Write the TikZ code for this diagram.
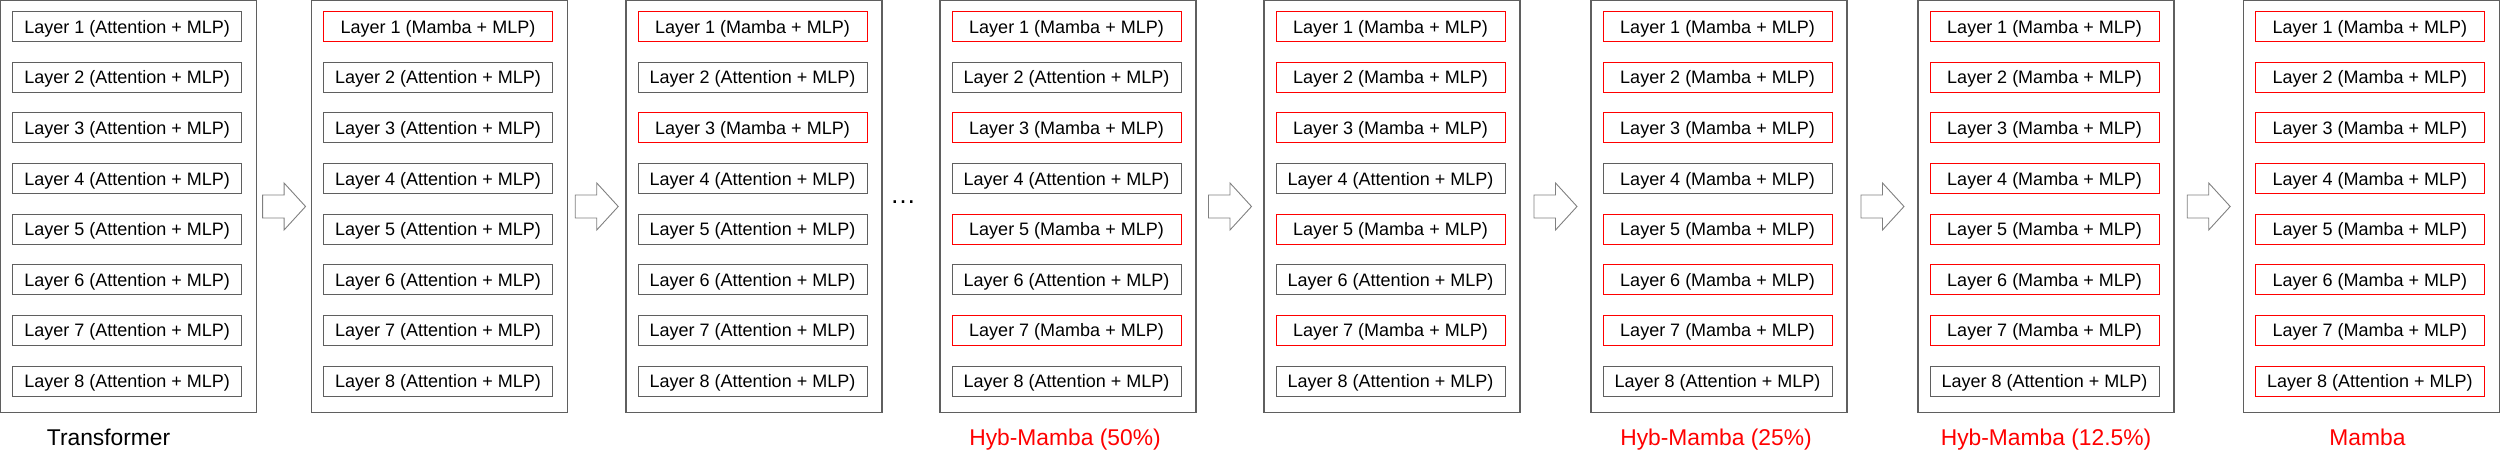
\documentclass[tikz,border=0pt]{standalone}
\usepackage{fontspec}
\setmainfont{Liberation Sans}
\usetikzlibrary{calc,positioning}
\definecolor{edgegray}{RGB}{95,95,95}
\definecolor{arrowgray}{RGB}{128,128,128}
\newcommand\tyA{Attention}
\newcommand\tyM{Mamba}
\newcommand\tyG{Mamba}
\newcommand\tyR{Attention}
\newcommand\laytext[2]{Layer #1 (\csname ty#2\endcsname{} + MLP)}
\tikzset{panel/.style={draw=edgegray, line width=0.55pt, minimum width=128pt, minimum height=206pt, inner sep=0pt},
  layer/.style={line width=0.5pt, minimum width=114.5pt, minimum height=15pt, inner sep=0pt, text height=6.45pt, text depth=0pt, font=\fontsize{9}{10}\selectfont},
  layerA/.style={layer, draw=edgegray}, layerM/.style={layer, draw=red},
  layerG/.style={layerA}, layerR/.style={layerM},
  caption/.style={anchor=base, font=\fontsize{11.4}{13}\selectfont},
  blockarrow/.style={draw=arrowgray, fill=white, line width=0.45pt, line join=miter}}

\begin{document}
\begin{tikzpicture}[x=0.5pt,y=-0.5pt]
   \useasboundingbox (0,0) rectangle (2500,454);
   % A = attention, M = mamba, G = mamba (grey box), R = attention (red box)
   \foreach \i/\cx/\codes in {1/128.6/{A,A,A,A,A,A,A,A}, 2/439.5/{M,A,A,A,A,A,A,A},
                              3/754/{M,A,M,A,A,A,A,A},   4/1068/{M,A,M,A,M,A,M,A},
                              5/1392/{M,M,M,A,M,A,M,A},  6/1719/{M,M,M,G,M,M,M,A},
                              7/2046/{M,M,M,M,M,M,M,A},  8/2371.4/{M,M,M,M,M,M,M,R}} {
    \node[panel] (s\i) at (\cx,206.5) {};
    \foreach \c [count=\j] in \codes
     \node[layer\c] (s\i l\j) at ({\cx-1.5},{26.8+50.6*(\j-1)}) {\laytext{\j}{\c}};
   }
   \foreach \a/\b in {1/2,2/3,4/5,5/6,6/7,7/8} {
    \coordinate (g\a) at ($(s\a.east)!0.5!(s\b.west)$);
    \draw[blockarrow, shift={(g\a)}] (-21.5,-11.5) -- (0,-11.5) -- (0,-23.5) -- (21.5,0) -- (0,23.5) -- (0,11.5) -- (-21.5,11.5) -- cycle;
   }
   \coordinate (g3) at ($(s3.east)!0.5!(s4.west)$);
   \node[anchor=base, inner sep=0pt, font=\fontsize{13}{15}\selectfont] (more) at ([xshift=-4pt,yshift=1.5pt]g3) {\dots};
   \node[caption] (cap1) at ([xshift=-10pt,yshift=-16.25pt]s1.south) {Transformer};
   \node[caption, red] (cap4) at ([xshift=-1.5pt,yshift=-16.25pt]s4.south) {Hyb-Mamba (50\%)};
   \node[caption, red] (cap6) at ([xshift=-1.5pt,yshift=-16.25pt]s6.south) {Hyb-Mamba (25\%)};
   \node[caption, red] (cap7) at ([yshift=-16.25pt]s7.south) {Hyb-Mamba (12.5\%)};
   \node[caption, red] (cap8) at ([xshift=-2pt,yshift=-16.25pt]s8.south) {Mamba};
\end{tikzpicture}
\end{document}
